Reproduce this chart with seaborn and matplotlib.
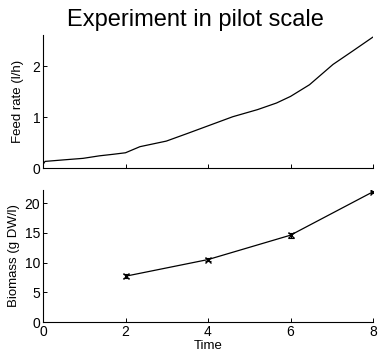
import numpy as np
import pandas as pd
import seaborn as sns
import matplotlib.pyplot as plt

# Feed rate profile
feed_time = [0.0, 0.05, 0.5, 0.97, 1.37, 1.7, 2.0, 2.35, 2.99, 3.5, 4.0, 4.6, 5.2, 5.66, 6.0, 6.46, 7.03, 7.5, 8.0]
feed_rate = [0.07, 0.13, 0.16, 0.19, 0.24, 0.27, 0.30, 0.42, 0.53, 0.68, 0.83, 1.01, 1.15, 1.28, 1.41, 1.64, 2.04, 2.30, 2.58]

# Biomass samples
bio_time = [2, 4, 6, 8]
biomass = [7.7, 10.5, 14.6, 21.9]
biomass_err = [0.3, 0.3, 0.4, 0.2]

sns.set_style("ticks")
plt.rcParams['font.family'] = ['Liberation Sans', 'DejaVu Sans']
plt.rcParams['xtick.direction'] = 'in'
plt.rcParams['ytick.direction'] = 'in'
for key in ('text.color', 'axes.labelcolor', 'xtick.color', 'ytick.color', 'axes.edgecolor'):
    plt.rcParams[key] = 'black'

fig = plt.figure(figsize=(3.78, 3.57), dpi=100)
ax1 = fig.add_axes([43 / 378, 1 - 168 / 357, 330 / 378, 133 / 357])
ax2 = fig.add_axes([43 / 378, 1 - 322 / 357, 330 / 378, 132 / 357])

feed_df = pd.DataFrame({'Time': feed_time, 'Feed': feed_rate})
sns.lineplot(data=feed_df, x='Time', y='Feed', ax=ax1, color='black', linewidth=0.9)
ax1.set_xlim(0, 8)
ax1.set_ylim(0, 2.62)
ax1.set_xticks([0, 2, 4, 6, 8])
ax1.set_xticklabels([])
ax1.set_yticks([0, 1, 2])
ax1.set_xlabel('')
ax1.set_ylabel('Feed rate (l/h)', fontsize=9.5, labelpad=6)

bio_df = pd.DataFrame({'Time': bio_time, 'Biomass': biomass})
ax2.errorbar(bio_time, biomass, yerr=biomass_err, fmt='none', ecolor='black',
             elinewidth=0.8, capsize=2.5, capthick=0.8)
sns.lineplot(data=bio_df, x='Time', y='Biomass', ax=ax2, color='black', linewidth=0.9,
             marker='x', markersize=5, markeredgecolor='black', markeredgewidth=1.0)
ax2.set_xlim(0, 8)
ax2.set_ylim(0, 22.2)
ax2.set_xticks([0, 2, 4, 6, 8])
ax2.set_yticks([0, 5, 10, 15, 20])
ax2.set_xlabel('Time', fontsize=9.5, labelpad=1)
ax2.set_ylabel('Biomass (g DW/l)', fontsize=9.5, labelpad=3)

for ax in (ax1, ax2):
    sns.despine(ax=ax)
    ax.tick_params(labelsize=10, length=3, width=0.7, pad=2, colors='black')
    for s in ('left', 'bottom'):
        ax.spines[s].set_linewidth(0.8)

fig.text(195 / 378, 1 - 26 / 357, 'Experiment in pilot scale', ha='center', va='baseline', fontsize=17)

fig.savefig('out.png', dpi=100)
